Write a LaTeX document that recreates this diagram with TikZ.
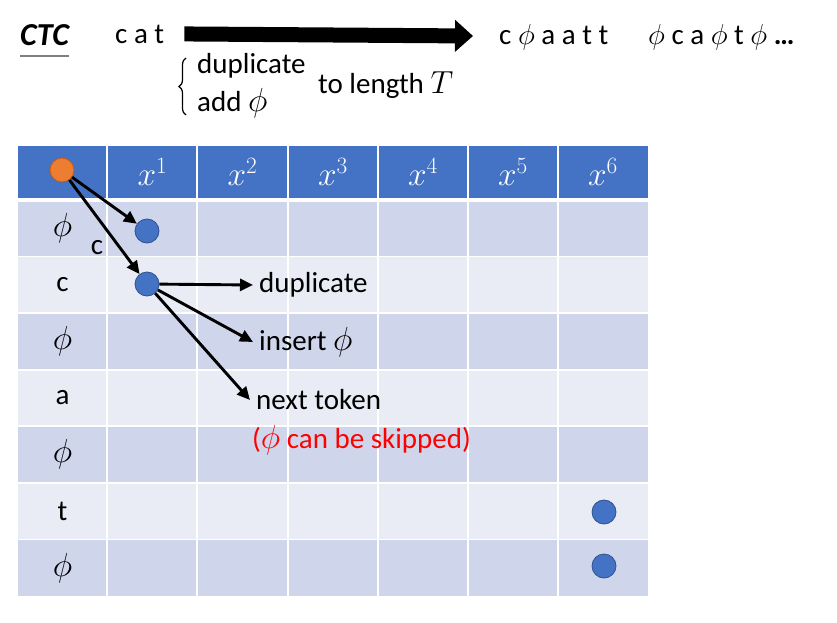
\RequirePackage{fix-cm}
\documentclass[tikz,border=0pt]{standalone}
\usepackage{fontspec}
\setmainfont{Carlito}
\usetikzlibrary{arrows.meta,positioning,decorations.pathreplacing}
\definecolor{hdrblue}{HTML}{4472C4}
\definecolor{rowdark}{HTML}{CFD5EA}
\definecolor{rowlight}{HTML}{E9EBF5}
\definecolor{dotedge}{HTML}{2F528F}
\definecolor{orangefill}{HTML}{ED7D31}
\definecolor{orangeedge}{HTML}{C55A11}
\newcommand{\cellphi}{\scalebox{1.15}{$\phi$}}

\begin{document}
\begin{tikzpicture}[x=1pt, y=-1pt, font=\fontsize{29}{33}\selectfont,
    bluedot/.style = {circle, draw=dotedge, fill=hdrblue, line width=0.8pt, minimum size=24pt, inner sep=0pt},
    arr/.style = {-{Triangle[length=13pt,width=12pt]}, line width=2.9pt},
    gridline/.style = {white, line width=1.6pt},
    lbl/.style = {anchor=west, inner sep=6pt}]
    \useasboundingbox (0,0) rectangle (837,623);
    % top line
    \node [anchor=base west, inner sep=0pt] (ctc) at (20,46) {\fontsize{32}{36}\selectfont\bfseries\itshape CTC};
    \draw [gray, line width=1.3pt] ([yshift=-10pt]ctc.base west) -- ([yshift=-10pt]ctc.base east);
    \node [anchor=base west, inner sep=0pt] (src) at (115,44) {c a t};
    \node [anchor=base west, inner sep=0pt] (out1) at (499,45) {c~$\phi$~a a t t};
    \node [anchor=base west, inner sep=0pt] (out2) at (648,45) {$\phi$~c a~$\phi$~t~$\phi$~\textbf{…}};
    \draw [line width=15pt, -{Triangle[length=18pt,width=31pt]}] ([xshift=20pt,yshift=1pt]src.east) -- ([xshift=-26pt]out1.west |- 0,36);
    \draw [decorate, decoration={brace, amplitude=7pt}, line width=1.2pt] (186,115) -- (186,58);
    \node [anchor=base west, inner sep=0pt] (dupl) at (197,74) {duplicate};
    \node [anchor=base west, inner sep=0pt] (addb) at (197,112) {add \cellphi};
    \node [anchor=base west, inner sep=0pt] (len) at (318,94) {to length \scalebox{1.1}{$T$}};
    % table
    \fill [hdrblue] (18,146) rectangle (648,200);
    \foreach \i in {0,...,6} {
        \pgfmathsetmacro{\top}{200+56.57*\i}
        \pgfmathparse{mod(\i,2)==0 ? "rowdark" : "rowlight"}
        \fill [\pgfmathresult] (18,\top) rectangle (648,\top+56.57);
    }
    \foreach \x in {107,197,288,378,468,558}
        \draw [gridline] (\x,146) -- (\x,596);
    \foreach \i in {1,...,6}
        \draw [gridline] (18,200+56.57*\i) -- (648,200+56.57*\i);
    \draw [white, line width=3.5pt] (18,200) -- (648,200);
    \foreach \x [count=\k] in {152.5,242.5,333,423,513,603}
        \node [white] (h\k) at (\x,172) {\scalebox{1.15}{$x^{\k}$}};
    \foreach \lab [count=\i from 0] in {\cellphi,c,\cellphi,a,\cellphi,t,\cellphi}
        \node (r\i) at (62.5,228.3+56.57*\i) {\lab};
    % dots
    \node [circle, draw=orangeedge, fill=orangefill, line width=0.8pt, minimum size=24pt, inner sep=0pt] (start) at (62,170) {};
    \node [bluedot] (p1) at (147,231) {};
    \node [bluedot] (p2) at (147,284) {};
    \node [bluedot] (p3) at (604,512) {};
    \node [bluedot] (p4) at (604,566) {};
    % moves
    \node [lbl] (dup) at (253,285) {duplicate};
    \node [lbl] (ins) at (253,342) {insert \cellphi};
    \node [lbl] (nxt) at (250,400) {next token};
    \node [red, anchor=west, inner sep=0pt] (skip) at (252,440) {(\cellphi{} can be skipped)};
    \draw [arr] (start) -- (p1);
    \draw [arr] (start) -- node [pos=0.72, left=12pt] {c} (p2);
    \draw [arr] (p2) -- (dup.west);
    \draw [arr] (p2) -- (ins.west);
    \draw [arr] (p2) -- (nxt.west);
\end{tikzpicture}
\end{document}
